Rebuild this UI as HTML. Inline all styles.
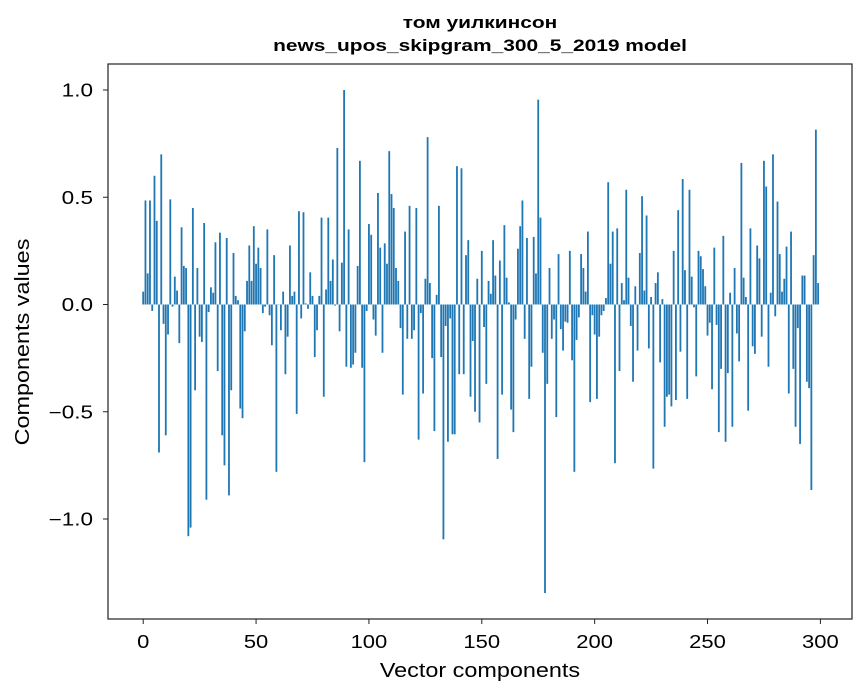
<!DOCTYPE html>
<html><head><meta charset="utf-8"><style>
body{margin:0;background:#fff}
svg{display:block;font-family:"Liberation Sans",sans-serif}
</style></head><body>
<svg id="chart" width="867" height="696" viewBox="0 0 867 696">
<rect width="867" height="696" fill="#fff"/>
<text class="st" data-f="1.23" x="480" y="28" text-anchor="middle" font-size="17" font-weight="bold">том уилкинсон</text>
<text class="st" data-f="1.23" x="480" y="51" text-anchor="middle" font-size="17" font-weight="bold">news_upos_skipgram_300_5_2019 model</text>
<g id="bars"></g>
<g id="xticks"></g>
<g id="yticks"></g>
<rect x="108" y="64" width="744" height="555" fill="none" stroke="#222" stroke-width="1.2"/>
<text class="st" data-f="1.17" x="480" y="677" text-anchor="middle" font-size="20">Vector components</text>
<text class="st" data-f="1.17" transform="translate(29,342) rotate(-90)" text-anchor="middle" font-size="20">Components values</text>
</svg>
<script>
const values = [
0.06,0.485,0.145,0.485,-0.03,0.6,0.39,-0.69,0.70,-0.09,
-0.61,-0.14,0.49,-0.01,0.13,0.065,-0.18,0.36,0.18,0.17,
-1.08,-1.04,0.45,-0.40,0.17,-0.15,-0.175,0.38,-0.91,-0.035,
0.08,0.055,0.29,-0.31,0.335,-0.61,-0.75,0.31,-0.89,-0.40,
0.24,0.04,0.02,-0.485,-0.53,-0.125,0.11,0.275,0.11,0.365,
0.19,0.265,0.17,-0.04,-0.01,0.35,-0.05,-0.19,0.23,-0.78,
0.0,-0.12,0.06,-0.325,-0.15,0.275,0.04,0.06,-0.51,0.435,
-0.065,0.43,0.005,-0.02,0.15,0.04,-0.245,-0.12,0.04,0.405,
-0.43,0.07,0.405,0.11,0.21,-0.005,0.73,-0.125,0.195,1.00,
-0.29,0.35,-0.295,-0.28,-0.225,0.18,0.67,-0.295,-0.735,-0.03,
0.375,0.325,-0.07,-0.145,0.52,0.265,-0.225,0.285,0.19,0.715,
0.515,0.45,0.17,0.11,-0.11,-0.42,0.34,-0.16,0.46,-0.16,
-0.12,0.45,-0.63,-0.04,-0.415,0.12,0.78,0.10,-0.25,-0.59,
0.045,0.46,-0.245,-1.095,-0.10,-0.64,-0.065,-0.605,-0.605,0.645,
-0.325,0.635,-0.325,0.23,0.30,-0.43,-0.17,-0.50,0.12,-0.55,
0.25,-0.105,-0.37,0.11,0.05,0.30,0.135,-0.72,0.205,-0.42,
0.37,0.125,0.01,-0.49,-0.595,-0.07,0.26,0.365,0.485,-0.16,
0.31,-0.44,-0.29,0.315,0.145,0.955,0.405,-0.225,-1.345,-0.37,
0.17,-0.16,-0.07,-0.525,0.235,-0.115,-0.215,-0.08,-0.085,0.25,
-0.26,-0.78,-0.165,-0.06,0.235,0.17,0.06,0.34,-0.455,-0.05,
-0.14,-0.44,-0.15,-0.05,-0.03,0.03,0.57,0.19,0.34,-0.74,
0.355,-0.31,0.10,0.02,0.535,0.125,-0.10,-0.36,0.085,-0.215,
0.24,0.505,0.065,0.415,-0.205,0.035,-0.765,0.10,0.15,-0.27,
0.025,-0.57,-0.43,-0.42,-0.475,0.25,-0.445,0.44,-0.22,0.585,
0.16,-0.44,0.535,0.13,-0.013,-0.335,0.25,0.225,0.165,0.085,
-0.145,-0.085,-0.395,0.265,-0.095,-0.595,-0.30,0.32,-0.64,-0.32,
0.055,-0.57,0.17,-0.135,-0.265,0.66,0.125,0.035,-0.495,0.355,
-0.195,-0.23,0.275,0.215,-0.15,0.67,0.55,-0.29,0.055,0.70,
-0.055,0.48,0.235,0.06,0.12,0.27,-0.415,0.34,-0.30,-0.57,
-0.11,-0.65,0.135,0.135,-0.36,-0.39,-0.865,0.23,0.815,0.10
];
const xTickValues = [0,50,100,150,200,250,300];
const yTickValues = [1.0,0.5,0.0,-0.5,-1.0];
const yTickLabels = ["1.0","0.5","0.0","\u22120.5","\u22121.0"];

const NS = "http://www.w3.org/2000/svg";
const xScale = v => 143.2 + v * 2.2573;
const yScale = v => 304.5 - v * 214.5;
const barW = 0.8 * 2.2573;

const gb = document.getElementById('bars');
values.forEach((v, i) => {
  const r = document.createElementNS(NS, 'rect');
  const y0 = yScale(0), y1 = yScale(v);
  r.setAttribute('x', xScale(i) - barW / 2);
  r.setAttribute('y', Math.min(y0, y1));
  r.setAttribute('width', barW);
  r.setAttribute('height', Math.max(Math.abs(y1 - y0), 0.3));
  r.setAttribute('fill', '#1f77b4');
  
  
  gb.appendChild(r);
});

const gx = document.getElementById('xticks');
xTickValues.forEach(t => {
  const x = xScale(t);
  const l = document.createElementNS(NS, 'line');
  l.setAttribute('x1', x); l.setAttribute('x2', x);
  l.setAttribute('y1', 619); l.setAttribute('y2', 624);
  l.setAttribute('stroke', '#222');
  
  
  gx.appendChild(l);
  const tx = document.createElementNS(NS, 'text');
  tx.setAttribute('x', x); tx.setAttribute('y', 648);
  tx.setAttribute('text-anchor', 'middle');
  tx.setAttribute('font-size', '18');
  tx.setAttribute('class', 'st');
  tx.setAttribute('data-f', '1.22');
  tx.textContent = String(t);
  
  
  gx.appendChild(tx);
});

const gy = document.getElementById('yticks');
yTickValues.forEach((t, i) => {
  const y = yScale(t);
  const l = document.createElementNS(NS, 'line');
  l.setAttribute('x1', 103); l.setAttribute('x2', 108);
  l.setAttribute('y1', y); l.setAttribute('y2', y);
  l.setAttribute('stroke', '#222');
  
  
  gy.appendChild(l);
  const tx = document.createElementNS(NS, 'text');
  tx.setAttribute('x', 93); tx.setAttribute('y', y + 6.5);
  tx.setAttribute('text-anchor', 'end');
  tx.setAttribute('font-size', '18');
  tx.setAttribute('class', 'st');
  tx.setAttribute('data-f', '1.25');
  tx.textContent = yTickLabels[i];
  
  
  gy.appendChild(tx);
});

document.querySelectorAll('text.st').forEach(t => {
  const f = parseFloat(t.getAttribute('data-f'));
  const w = t.getComputedTextLength();
  t.setAttribute('textLength', (w * f).toFixed(1));
  t.setAttribute('lengthAdjust', 'spacingAndGlyphs');
});
</script>
</body></html>
